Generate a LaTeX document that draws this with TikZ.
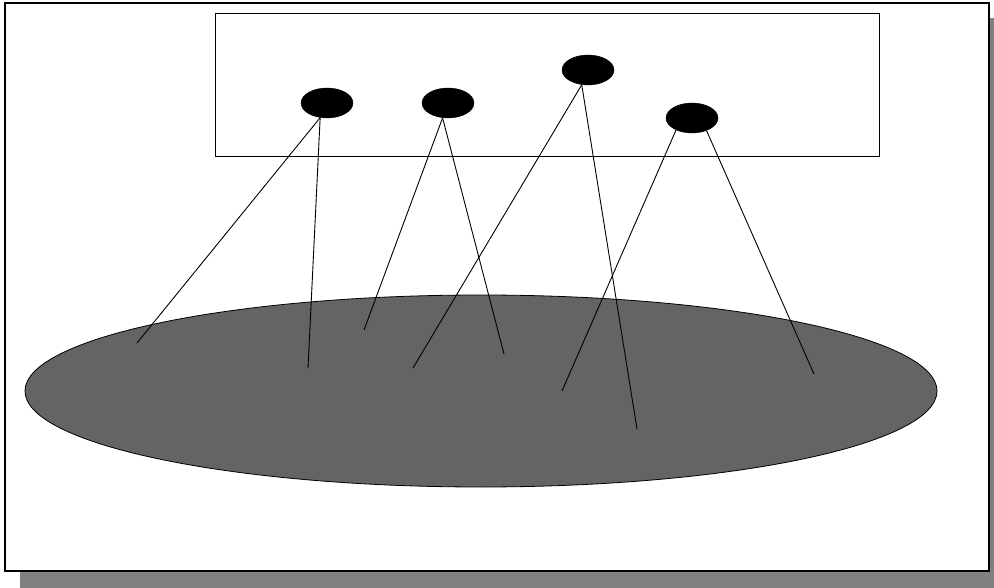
\documentclass[tikz,border=0pt]{standalone}
\usepackage{xcolor}
\usetikzlibrary{shapes.geometric}
\definecolor{frameshade}{HTML}{808080}
\definecolor{fieldgray}{HTML}{646464}
\tikzset{
  spot/.style={ellipse, fill=black, draw=black, minimum width=52pt, minimum height=30pt, inner sep=0pt},
  ray/.style={black, line width=0.9pt},
}
\newcommand{\spotnode}[3]{\node[spot] (#1) at (#2,#3) {};}

\begin{document}
\begin{tikzpicture}[x=1pt, y=-1pt]
  \useasboundingbox (0,0) rectangle (994,588);

  % outer frame with its shadow
  \fill[frameshade] (20,18) rectangle (994,588);
  \draw[black, line width=2pt, fill=white] (5,3) rectangle (989,571);

  % upper box
  \draw[black, line width=1pt] (215,14) rectangle (879,157);

  % lower field
  \draw[black, line width=0.8pt, fill=fieldgray] (481,391) ellipse (456pt and 96pt);

  % spots
  \spotnode{spotA}{327}{103}
  \spotnode{spotB}{448}{103}
  \spotnode{spotC}{588}{70}
  \spotnode{spotD}{692}{118}

  % ray ends
  \coordinate (endA1) at (137,343);
  \coordinate (endA2) at (308,368);
  \coordinate (endB1) at (364,330);
  \coordinate (endB2) at (504,354);
  \coordinate (endC1) at (413,368);
  \coordinate (endC2) at (637,429);
  \coordinate (endD1) at (562,391);
  \coordinate (endD2) at (814,374);

  % rays
  \draw[ray] (spotA.245) -- (endA1);
  \draw[ray] (spotA.245) -- (endA2);
  \draw[ray] (spotB.250) -- (endB1);
  \draw[ray] (spotB.250) -- (endB2);
  \draw[ray] (spotC.247) -- (endC1);
  \draw[ray] (spotC.247) -- (endC2);
  \draw[ray] (spotD.217) -- (endD1);
  \draw[ray] (spotD.319) -- (endD2);

\end{tikzpicture}
\end{document}
